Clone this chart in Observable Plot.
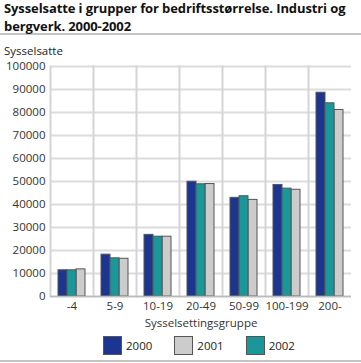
<!DOCTYPE html>
<html><head><meta charset="utf-8">
<script src="https://cdn.jsdelivr.net/npm/d3@7"></script>
<script src="https://cdn.jsdelivr.net/npm/@observablehq/plot@0.6"></script>
<style>
body{margin:0;background:#fff;font-family:"Open Sans",sans-serif;width:361px;overflow:hidden}
#title{font-weight:bold;font-size:13px;line-height:18px;color:#111;margin-top:-1px;padding-left:4px;height:34px;letter-spacing:-0.1px}
#rule1{height:2px;background:#c4c4c4}
#ylab{font-size:11.5px;color:#222;padding:9px 0 0 4px;height:13px;line-height:13px}
#legend{display:flex;justify-content:flex-start;padding-left:103px;font-size:11.5px;color:#222;height:29px;align-items:center}
.item{display:flex;align-items:center;margin-right:22px}
.sw{width:19px;height:19px;border:1px solid #555;box-sizing:border-box;margin-right:4px}
#rule2{height:2px;background:#c4c4c4}
</style></head><body>
<div id="title">Sysselsatte i grupper for bedriftsstørrelse. Industri og bergverk. 2000-2002</div>
<div id="rule1"></div>
<div id="ylab">Sysselsatte</div>
<div id="chart"></div>
<div id="legend"></div>
<div id="rule2"></div>
<script>
const categories = ["-4","5-9","10-19","20-49","50-99","100-199","200-"];
const years = ["2000","2001","2002"];
const barOrder = ["2000","2002","2001"];
const colors = ["#1b3591","#cccccc","#1a9899"];
const v2000 = [11400,18200,26800,49900,42900,48500,88600];
const v2001 = [11800,16400,26000,48900,42000,46400,81100];
const v2002 = [11400,16600,26000,48800,43600,46900,84000];
const yTicks = [0,10000,20000,30000,40000,50000,60000,70000,80000,90000,100000];
const series = {"2000":v2000,"2001":v2001,"2002":v2002};
const data = [];
categories.forEach((c,i)=>years.forEach(y=>data.push({cat:c,year:y,value:series[y][i]})));

const chart = Plot.plot({
  width:361, height:274,
  marginLeft:48, marginRight:9, marginTop:9, marginBottom:35,
  style:{fontFamily:"Open Sans, sans-serif", fontSize:"11.5px", color:"#333"},
  fx:{domain:categories, padding:0, label:"Sysselsettingsgruppe"},
  x:{domain:barOrder, paddingInner:0, paddingOuter:0.67, axis:null},
  y:{domain:[0,100000], ticks:yTicks, label:null},
  color:{domain:years, range:colors},
  marks:[
    Plot.gridY(yTicks,{stroke:"#dcdcdc", strokeOpacity:1, strokeWidth:2}),
    Plot.frame({anchor:"left", stroke:"#d4d4d4", strokeWidth:2}),
    Plot.axisY({ticks:yTicks, tickSize:0, tickPadding:5, tickFormat:d=>String(d), label:null}),
    Plot.axisFx({anchor:"bottom", tickSize:0, tickPadding:5, label:"Sysselsettingsgruppe", labelAnchor:"center", labelOffset:30, labelArrow:"none", fontWeight:"normal"}),
    Plot.barY(data,{fx:"cat", x:"year", y:"value", fill:"year", stroke:"#555", strokeWidth:1, inset:0}),
    Plot.ruleY([0],{stroke:"#bbb", strokeWidth:1.5})
  ]
});
document.getElementById("chart").appendChild(chart);
const lg = document.getElementById("legend");
years.forEach((y,i)=>{
  const it=document.createElement("div");it.className="item";
  const sw=document.createElement("div");sw.className="sw";sw.style.background=colors[i];
  const t=document.createElement("span");t.textContent=y;
  it.appendChild(sw);it.appendChild(t);lg.appendChild(it);
});
</script>
</body></html>
